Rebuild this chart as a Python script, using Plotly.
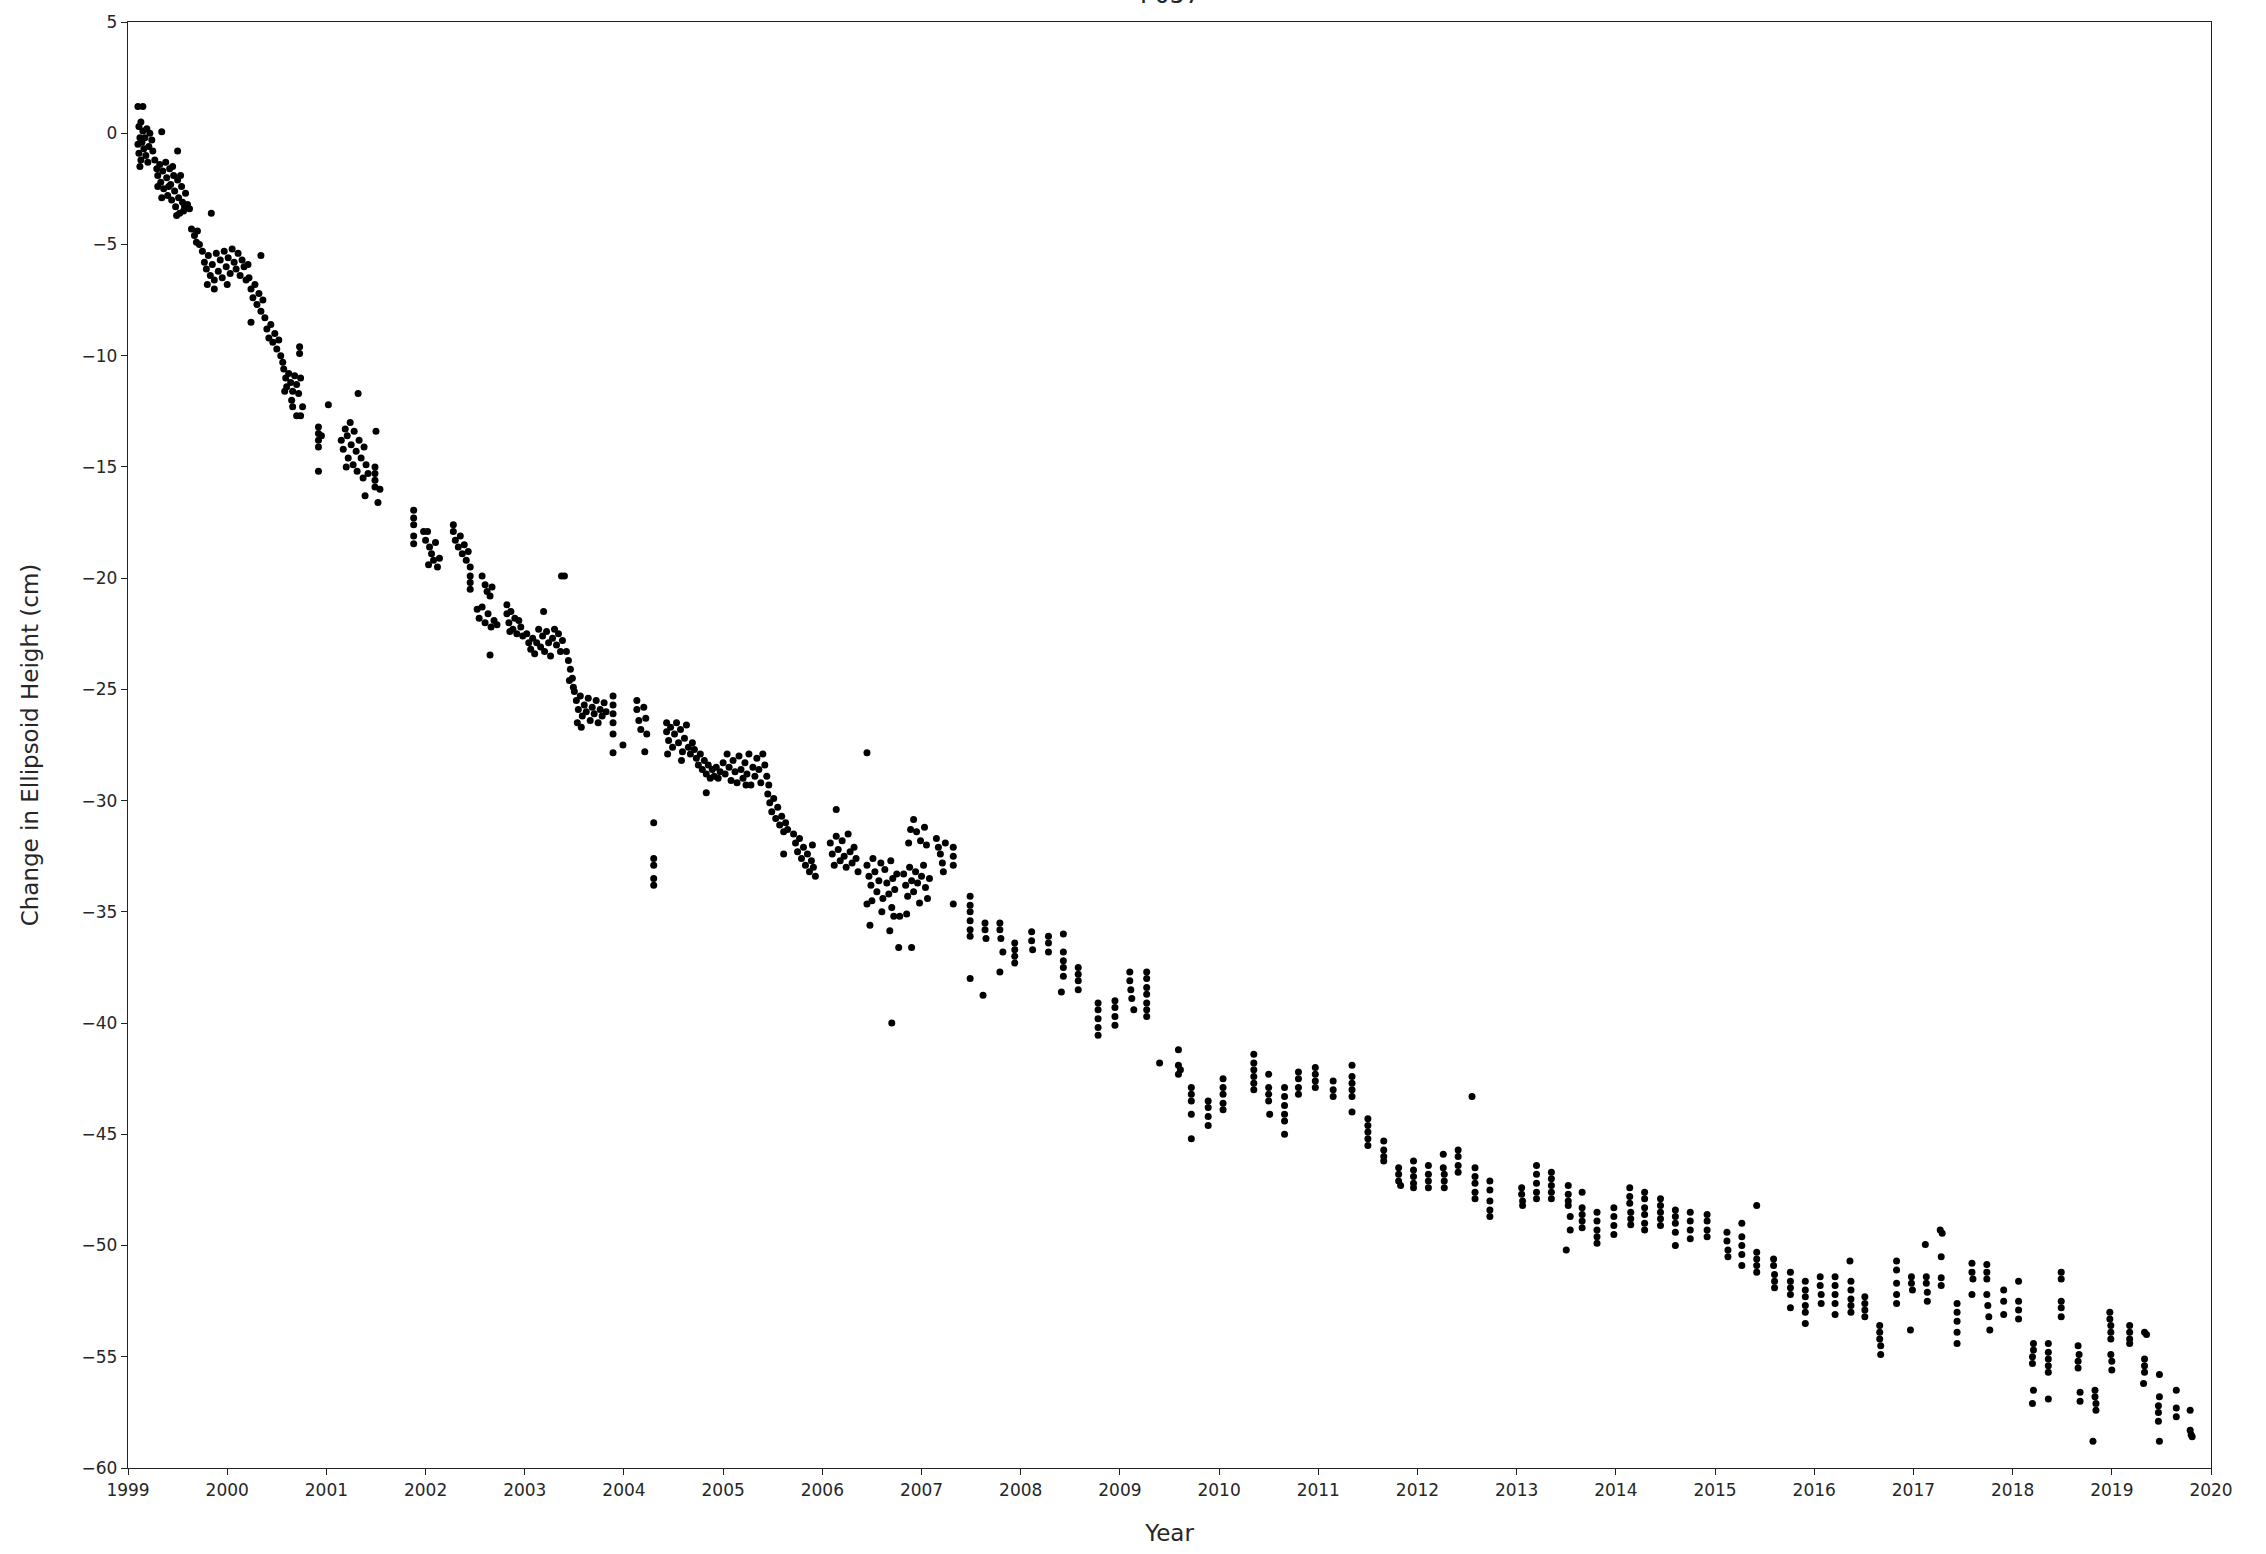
import plotly.graph_objects as go

# ---- data: (decimal year, change in ellipsoid height in cm) ----
seg_1999 = [
    [1999.10, 1.2], [1999.15, 1.2],
    [1999.11, 0.3], [1999.13, 0.5], [1999.15, 0.1], [1999.12, -0.2], [1999.10, -0.5], [1999.14, -0.4],
    [1999.16, -0.7], [1999.11, -0.9], [1999.18, -1.0], [1999.13, -1.2], [1999.17, -0.2], [1999.19, 0.2],
    [1999.21, -0.6], [1999.12, -1.5], [1999.20, -1.3], [1999.22, 0.0], [1999.24, -0.3], [1999.25, -0.8],
    [1999.34, 0.07], [1999.50, -0.8],
    [1999.27, -1.2], [1999.29, -1.6], [1999.30, -1.9], [1999.32, -1.4], [1999.33, -2.2], [1999.35, -1.7],
    [1999.36, -2.5], [1999.38, -1.3], [1999.39, -2.0], [1999.40, -2.8], [1999.42, -1.6], [1999.43, -2.3],
    [1999.44, -3.0], [1999.46, -1.9], [1999.47, -2.6], [1999.48, -3.3], [1999.50, -2.1], [1999.51, -2.9],
    [1999.52, -3.6], [1999.54, -2.4], [1999.55, -3.1], [1999.56, -3.5], [1999.58, -2.7], [1999.45, -1.5],
    [1999.41, -2.4], [1999.34, -2.9], [1999.30, -2.4], [1999.53, -1.9], [1999.57, -3.3], [1999.49, -3.7],
    [1999.60, -3.2], [1999.62, -3.4], [1999.84, -3.6],
    [1999.64, -4.3], [1999.67, -4.6], [1999.70, -4.4], [1999.72, -5.0], [1999.69, -4.9],
    [1999.75, -5.3], [1999.77, -5.8], [1999.79, -6.1], [1999.81, -5.5], [1999.83, -6.4], [1999.85, -5.9],
    [1999.87, -6.6], [1999.89, -5.4], [1999.91, -6.2], [1999.93, -5.7], [1999.95, -6.5], [1999.97, -5.3],
    [1999.99, -6.0], [1999.87, -7.0], [1999.80, -6.8],
]
seg_2000 = [
    [2000.01, -5.6], [2000.03, -6.3], [2000.05, -5.2], [2000.07, -5.8], [2000.09, -6.1], [2000.11, -5.4],
    [2000.13, -6.4], [2000.15, -5.7], [2000.17, -6.0], [2000.19, -6.6], [2000.21, -5.9], [2000.00, -6.8],
    [2000.34, -5.5],
    [2000.22, -6.5], [2000.24, -7.0], [2000.26, -7.4], [2000.28, -6.8], [2000.30, -7.7], [2000.32, -7.2],
    [2000.34, -8.0], [2000.36, -7.5], [2000.38, -8.3], [2000.24, -8.5], [2000.40, -8.8], [2000.42, -9.2],
    [2000.44, -8.6], [2000.46, -9.4], [2000.48, -9.0], [2000.50, -9.7], [2000.52, -9.3], [2000.54, -10.0],
    [2000.56, -10.3], [2000.73, -9.6], [2000.73, -9.9],
    [2000.57, -10.6], [2000.59, -11.0], [2000.60, -11.4], [2000.62, -10.8], [2000.64, -11.2], [2000.66, -11.6],
    [2000.68, -10.9], [2000.70, -11.3], [2000.72, -11.7], [2000.74, -11.0], [2000.58, -11.6], [2000.65, -12.0],
    [2000.66, -12.3], [2000.70, -12.7], [2000.74, -12.7], [2000.76, -12.3],
    [2000.92, -13.2], [2000.92, -13.5], [2000.92, -13.8], [2000.92, -14.1], [2000.95, -13.6], [2000.92, -15.2],
]
seg_2001 = [
    [2001.02, -12.2], [2001.32, -11.7],
    [2001.15, -13.8], [2001.17, -14.2], [2001.19, -13.3], [2001.21, -13.6], [2001.22, -14.6], [2001.24, -13.0],
    [2001.25, -14.0], [2001.27, -14.9], [2001.28, -13.4], [2001.30, -14.3], [2001.31, -15.2], [2001.33, -13.8],
    [2001.35, -14.6], [2001.37, -15.5], [2001.38, -14.1], [2001.40, -14.9], [2001.42, -15.3], [2001.20, -15.0],
    [2001.50, -13.4], [2001.49, -15.0], [2001.49, -15.3], [2001.49, -15.6], [2001.49, -15.9], [2001.39, -16.3],
    [2001.54, -16.0], [2001.52, -16.6],
    [2001.88, -16.95], [2001.88, -17.3], [2001.88, -17.6], [2001.88, -18.1], [2001.88, -18.45],
    [2001.98, -17.9],
]
seg_2002 = [
    [2002.00, -18.3], [2002.02, -17.9], [2002.04, -18.6], [2002.06, -18.9], [2002.08, -19.2], [2002.10, -18.4],
    [2002.12, -19.5], [2002.14, -19.1], [2002.03, -19.4],
    [2002.28, -17.6], [2002.28, -17.9], [2002.30, -18.3], [2002.33, -18.6], [2002.35, -18.1], [2002.37, -18.9],
    [2002.39, -18.5], [2002.41, -19.2], [2002.43, -18.8], [2002.45, -19.5],
    [2002.45, -19.9], [2002.45, -20.2], [2002.45, -20.5],
    [2002.57, -19.9], [2002.60, -20.3], [2002.62, -20.6], [2002.65, -20.8], [2002.67, -20.4],
    [2002.52, -21.4], [2002.54, -21.8], [2002.57, -21.3], [2002.60, -22.0], [2002.63, -21.6], [2002.66, -22.2],
    [2002.69, -21.9], [2002.72, -22.1], [2002.65, -23.45],
    [2002.82, -21.2], [2002.82, -21.6], [2002.84, -22.0], [2002.86, -21.5], [2002.88, -22.3], [2002.90, -21.8],
    [2002.92, -22.5], [2002.94, -21.9], [2002.96, -22.2], [2002.98, -22.6], [2002.85, -22.4],
]
seg_2003 = [
    [2003.19, -21.5],
    [2003.02, -22.5], [2003.04, -22.9], [2003.06, -23.2], [2003.08, -22.7], [2003.10, -23.4], [2003.12, -22.9],
    [2003.14, -22.3], [2003.16, -23.1], [2003.18, -22.6], [2003.20, -23.3], [2003.22, -22.4], [2003.24, -22.9],
    [2003.26, -23.5], [2003.28, -22.7], [2003.30, -22.3], [2003.32, -23.0], [2003.34, -22.5], [2003.36, -23.3],
    [2003.38, -22.8], [2003.37, -19.9], [2003.40, -19.9],
    [2003.42, -23.3], [2003.44, -23.7], [2003.46, -24.1], [2003.48, -24.5], [2003.49, -24.9], [2003.45, -24.6],
    [2003.50, -25.1], [2003.52, -25.5], [2003.54, -25.9], [2003.56, -25.3], [2003.58, -26.2], [2003.60, -25.7],
    [2003.62, -26.0], [2003.64, -25.4], [2003.66, -26.4], [2003.68, -25.8], [2003.70, -26.1], [2003.72, -25.5],
    [2003.74, -26.5], [2003.76, -25.9], [2003.78, -26.2], [2003.80, -25.6], [2003.82, -26.0], [2003.53, -26.5],
    [2003.57, -26.7],
    [2003.89, -25.3], [2003.89, -25.7], [2003.89, -26.1], [2003.89, -26.5], [2003.89, -27.0], [2003.89, -27.85],
    [2003.99, -27.5],
]
seg_2004 = [
    [2004.13, -25.5], [2004.13, -25.9], [2004.15, -26.4], [2004.17, -26.8], [2004.20, -25.8], [2004.22, -26.3],
    [2004.23, -27.0], [2004.21, -27.8],
    [2004.30, -31.0], [2004.30, -32.6], [2004.30, -32.9], [2004.30, -33.5], [2004.30, -33.8],
    [2004.43, -26.5], [2004.43, -26.9], [2004.45, -27.3], [2004.47, -26.7], [2004.49, -27.6], [2004.51, -27.0],
    [2004.53, -26.5], [2004.55, -27.4], [2004.57, -26.8], [2004.59, -27.8], [2004.61, -27.2], [2004.63, -26.6],
    [2004.65, -27.6], [2004.67, -27.9], [2004.69, -27.4], [2004.44, -27.9], [2004.58, -28.2],
    [2004.71, -27.7], [2004.73, -28.1], [2004.75, -28.4], [2004.77, -27.9], [2004.79, -28.6], [2004.81, -28.2],
    [2004.83, -28.8], [2004.85, -28.4], [2004.87, -29.0], [2004.89, -28.6], [2004.91, -28.9], [2004.93, -28.5],
    [2004.95, -29.0], [2004.97, -28.7], [2004.83, -29.65],
]
seg_2005 = [
    [2005.00, -28.3], [2005.02, -28.8], [2005.04, -27.9], [2005.06, -28.5], [2005.08, -29.1], [2005.10, -28.2],
    [2005.12, -28.7], [2005.14, -29.2], [2005.16, -28.0], [2005.18, -28.6], [2005.20, -29.0], [2005.22, -28.3],
    [2005.24, -28.8], [2005.26, -27.9], [2005.28, -29.3], [2005.30, -28.5], [2005.32, -28.9], [2005.34, -28.1],
    [2005.36, -28.6], [2005.38, -29.2], [2005.40, -27.9], [2005.42, -28.4], [2005.44, -28.9], [2005.46, -29.3],
    [2005.23, -29.3],
    [2005.45, -29.7], [2005.47, -30.1], [2005.49, -30.5], [2005.51, -29.9], [2005.53, -30.8], [2005.55, -30.3],
    [2005.57, -31.1], [2005.59, -30.7], [2005.61, -31.4], [2005.63, -31.0], [2005.65, -31.3], [2005.61, -32.4],
    [2005.71, -31.5], [2005.73, -31.9], [2005.75, -32.3], [2005.77, -31.7], [2005.79, -32.6], [2005.81, -32.1],
    [2005.83, -32.9], [2005.85, -32.4], [2005.87, -33.2], [2005.89, -32.7], [2005.91, -33.0], [2005.93, -33.4],
    [2005.90, -32.0],
]
seg_2006 = [
    [2006.45, -27.85], [2006.14, -30.4],
    [2006.08, -31.9], [2006.10, -32.4], [2006.12, -32.9], [2006.14, -31.6], [2006.16, -32.2], [2006.18, -32.7],
    [2006.20, -31.8], [2006.22, -32.5], [2006.24, -33.0], [2006.26, -31.5], [2006.28, -32.3], [2006.30, -32.8],
    [2006.32, -32.1], [2006.34, -32.6], [2006.36, -33.2],
    [2006.45, -32.9], [2006.47, -33.4], [2006.49, -33.8], [2006.51, -32.6], [2006.53, -33.2], [2006.55, -34.1],
    [2006.57, -33.6], [2006.59, -32.8], [2006.61, -34.4], [2006.63, -33.1], [2006.65, -33.7], [2006.67, -34.2],
    [2006.69, -32.7], [2006.71, -33.5], [2006.73, -34.0], [2006.75, -33.3], [2006.50, -34.5], [2006.60, -35.0],
    [2006.70, -34.8],
    [2006.45, -34.65], [2006.48, -35.6], [2006.68, -35.85], [2006.70, -40.0], [2006.77, -36.6], [2006.90, -36.6],
    [2006.72, -35.2], [2006.78, -35.2], [2006.85, -35.1],
    [2006.82, -33.3], [2006.84, -33.8], [2006.86, -34.3], [2006.88, -33.0], [2006.90, -33.6], [2006.92, -34.1],
    [2006.94, -33.2], [2006.96, -33.7], [2006.98, -34.6],
    [2006.92, -30.85], [2006.89, -31.3], [2006.87, -31.9], [2006.95, -31.4], [2006.99, -31.8],
]
seg_2007 = [
    [2007.00, -33.4], [2007.02, -32.9], [2007.04, -33.9], [2007.06, -34.4], [2007.08, -33.5],
    [2007.03, -31.2], [2007.05, -32.0],
    [2007.15, -31.7], [2007.17, -32.1], [2007.19, -32.4], [2007.21, -32.8], [2007.24, -31.9],
    [2007.32, -32.1], [2007.32, -32.5], [2007.32, -32.9], [2007.22, -33.2], [2007.32, -34.65],
    [2007.49, -34.3], [2007.49, -34.7], [2007.49, -35.0], [2007.49, -35.4], [2007.49, -35.8], [2007.49, -36.1],
    [2007.49, -38.0],
    [2007.64, -35.5], [2007.64, -35.8], [2007.65, -36.2], [2007.62, -38.75],
    [2007.79, -35.5], [2007.79, -35.8], [2007.80, -36.2], [2007.82, -36.8], [2007.79, -37.7],
    [2007.94, -36.4], [2007.94, -36.7], [2007.94, -37.0], [2007.94, -37.3],
]
seg_2008 = [
    [2008.11, -35.9], [2008.11, -36.3], [2008.12, -36.7],
    [2008.28, -36.1], [2008.28, -36.4], [2008.28, -36.8],
    [2008.43, -36.0], [2008.43, -36.8], [2008.43, -37.2], [2008.43, -37.5], [2008.43, -37.9], [2008.41, -38.6],
    [2008.58, -37.5], [2008.58, -37.8], [2008.58, -38.1], [2008.58, -38.5],
    [2008.78, -39.1], [2008.78, -39.4], [2008.78, -39.8], [2008.78, -40.2], [2008.78, -40.55],
    [2008.95, -39.0], [2008.95, -39.3], [2008.95, -39.7], [2008.95, -40.1],
]
seg_2009 = [
    [2009.10, -37.7], [2009.10, -38.1], [2009.11, -38.5], [2009.12, -38.9], [2009.14, -39.4],
    [2009.27, -37.7], [2009.27, -38.0], [2009.27, -38.4], [2009.27, -38.7], [2009.27, -39.1], [2009.27, -39.4],
    [2009.27, -39.7],
    [2009.40, -41.8],
    [2009.59, -41.2], [2009.59, -41.9], [2009.59, -42.3], [2009.61, -42.1],
    [2009.72, -42.9], [2009.72, -43.2], [2009.72, -43.5], [2009.72, -44.1], [2009.72, -45.2],
    [2009.89, -43.5], [2009.89, -43.8], [2009.89, -44.2], [2009.89, -44.6],
]
seg_2010 = [
    [2010.04, -42.5], [2010.04, -42.9], [2010.04, -43.2], [2010.04, -43.6], [2010.04, -43.9],
    [2010.35, -41.4], [2010.35, -41.8], [2010.35, -42.1], [2010.35, -42.4], [2010.35, -42.7], [2010.35, -43.0],
    [2010.50, -42.3], [2010.50, -42.9], [2010.50, -43.2], [2010.50, -43.5], [2010.51, -44.1],
    [2010.66, -42.9], [2010.66, -43.3], [2010.66, -43.7], [2010.66, -44.1], [2010.66, -44.4], [2010.66, -45.0],
    [2010.80, -42.2], [2010.80, -42.5], [2010.80, -42.9], [2010.80, -43.2],
    [2010.97, -42.0], [2010.97, -42.3], [2010.97, -42.6], [2010.97, -42.9],
]
seg_2011 = [
    [2011.15, -42.6], [2011.15, -43.0], [2011.15, -43.3],
    [2011.34, -41.9], [2011.34, -42.4], [2011.34, -42.7], [2011.34, -43.0], [2011.34, -43.3], [2011.34, -44.0],
    [2011.50, -44.3], [2011.50, -44.6], [2011.50, -44.9], [2011.50, -45.2], [2011.50, -45.5],
    [2011.66, -45.3], [2011.66, -45.7], [2011.66, -46.0], [2011.66, -46.2],
    [2011.81, -46.5], [2011.81, -46.8], [2011.81, -47.1], [2011.83, -47.3],
    [2011.96, -46.2], [2011.96, -46.6], [2011.96, -46.9], [2011.96, -47.2], [2011.96, -47.4],
]
seg_2012 = [
    [2012.11, -46.4], [2012.11, -46.8], [2012.11, -47.1], [2012.11, -47.4],
    [2012.26, -45.9], [2012.26, -46.5], [2012.27, -46.8], [2012.27, -47.1], [2012.27, -47.4],
    [2012.41, -45.7], [2012.41, -46.0], [2012.41, -46.4], [2012.41, -46.7],
    [2012.55, -43.3],
    [2012.58, -46.5], [2012.58, -46.9], [2012.58, -47.2], [2012.58, -47.6], [2012.58, -47.9],
    [2012.73, -47.1], [2012.73, -47.5], [2012.73, -48.0], [2012.73, -48.4], [2012.73, -48.7],
]
seg_2013 = [
    [2013.05, -47.4], [2013.05, -47.7], [2013.06, -48.0], [2013.06, -48.2],
    [2013.20, -46.4], [2013.20, -46.8], [2013.20, -47.2], [2013.20, -47.6], [2013.20, -47.9],
    [2013.35, -46.7], [2013.35, -47.0], [2013.35, -47.3], [2013.35, -47.6], [2013.35, -47.9],
    [2013.52, -47.3], [2013.52, -47.7], [2013.52, -48.0], [2013.52, -48.2], [2013.54, -48.7], [2013.54, -49.3],
    [2013.50, -50.2],
    [2013.66, -47.6], [2013.66, -48.3], [2013.66, -48.6], [2013.66, -48.9], [2013.66, -49.2],
    [2013.81, -48.5], [2013.81, -48.9], [2013.81, -49.3], [2013.81, -49.6], [2013.81, -49.9],
    [2013.98, -48.3], [2013.98, -48.7], [2013.98, -49.1], [2013.98, -49.5],
]
seg_2014 = [
    [2014.14, -47.4], [2014.14, -47.8], [2014.14, -48.1], [2014.15, -48.5], [2014.15, -48.8], [2014.15, -49.06],
    [2014.29, -47.6], [2014.29, -47.9], [2014.29, -48.3], [2014.29, -48.6], [2014.29, -49.0], [2014.29, -49.3],
    [2014.45, -47.9], [2014.45, -48.2], [2014.45, -48.5], [2014.45, -48.8], [2014.45, -49.1],
    [2014.60, -48.4], [2014.60, -48.7], [2014.60, -49.0], [2014.60, -49.4], [2014.60, -50.0],
    [2014.75, -48.5], [2014.75, -48.9], [2014.75, -49.3], [2014.75, -49.7],
    [2014.92, -48.6], [2014.92, -48.9], [2014.92, -49.3], [2014.92, -49.6],
]
seg_2015 = [
    [2015.12, -49.4], [2015.12, -49.8], [2015.13, -50.2], [2015.13, -50.5],
    [2015.27, -49.0], [2015.27, -49.6], [2015.27, -50.0], [2015.27, -50.4], [2015.27, -50.9],
    [2015.42, -48.2], [2015.42, -50.3], [2015.42, -50.6], [2015.42, -50.9], [2015.42, -51.2],
    [2015.59, -50.6], [2015.59, -50.9], [2015.60, -51.3], [2015.60, -51.6], [2015.60, -51.9],
    [2015.76, -51.2], [2015.76, -51.6], [2015.76, -51.9], [2015.76, -52.2], [2015.76, -52.8],
    [2015.91, -51.6], [2015.91, -52.0], [2015.91, -52.3], [2015.91, -52.7], [2015.91, -53.0], [2015.91, -53.5],
]
seg_2016 = [
    [2016.06, -51.4], [2016.06, -51.8], [2016.07, -52.2], [2016.07, -52.6],
    [2016.21, -51.4], [2016.21, -51.8], [2016.21, -52.2], [2016.21, -52.6], [2016.21, -53.1],
    [2016.36, -50.7], [2016.37, -51.6], [2016.37, -52.0], [2016.37, -52.4], [2016.37, -52.7], [2016.37, -53.0],
    [2016.51, -52.3], [2016.51, -52.6], [2016.51, -52.9], [2016.51, -53.2],
    [2016.66, -53.6], [2016.66, -53.9], [2016.66, -54.2], [2016.67, -54.5], [2016.67, -54.9],
    [2016.83, -50.7], [2016.83, -51.1], [2016.83, -51.7], [2016.83, -52.2], [2016.83, -52.6],
    [2016.97, -53.8], [2016.98, -51.4], [2016.98, -51.7], [2016.99, -52.0],
]
seg_2017 = [
    [2017.12, -49.95],
    [2017.13, -51.4], [2017.13, -51.7], [2017.14, -52.1], [2017.14, -52.5],
    [2017.27, -49.3], [2017.29, -49.45], [2017.28, -50.5], [2017.28, -51.45], [2017.28, -51.8],
    [2017.44, -52.6], [2017.44, -53.0], [2017.44, -53.4], [2017.44, -53.9], [2017.44, -54.4],
    [2017.59, -50.8], [2017.59, -51.2], [2017.60, -51.5], [2017.59, -52.2],
    [2017.74, -50.85], [2017.74, -51.2], [2017.74, -51.5], [2017.74, -52.2], [2017.75, -52.7], [2017.76, -53.2],
    [2017.77, -53.8],
    [2017.91, -52.0], [2017.91, -52.5], [2017.91, -53.1],
]
seg_2018 = [
    [2018.06, -51.6], [2018.06, -52.5], [2018.06, -52.9], [2018.06, -53.3],
    [2018.21, -54.4], [2018.21, -54.7], [2018.20, -55.0], [2018.20, -55.3], [2018.21, -56.5], [2018.20, -57.1],
    [2018.36, -54.4], [2018.36, -54.8], [2018.36, -55.1], [2018.36, -55.4], [2018.36, -55.7], [2018.36, -56.9],
    [2018.49, -51.2], [2018.49, -51.5], [2018.49, -52.5], [2018.49, -52.8], [2018.49, -53.2],
    [2018.66, -54.5], [2018.67, -54.9], [2018.66, -55.2], [2018.66, -55.5], [2018.68, -56.6], [2018.68, -57.0],
    [2018.83, -56.5], [2018.83, -56.8], [2018.84, -57.1], [2018.84, -57.4], [2018.81, -58.8],
    [2018.98, -53.0], [2018.98, -53.3], [2018.99, -53.6], [2018.99, -53.9], [2018.99, -54.2], [2018.99, -54.9],
]
seg_2019 = [
    [2019.00, -55.2], [2019.00, -55.6],
    [2019.18, -53.6], [2019.18, -53.9], [2019.18, -54.2], [2019.18, -54.4],
    [2019.33, -53.9], [2019.35, -54.0], [2019.33, -55.1], [2019.33, -55.4], [2019.33, -55.7], [2019.32, -56.2],
    [2019.48, -55.8], [2019.48, -56.8], [2019.47, -57.2], [2019.47, -57.5], [2019.47, -57.9], [2019.48, -58.8],
    [2019.65, -56.5], [2019.65, -57.3], [2019.65, -57.7],
    [2019.79, -57.4], [2019.79, -58.3], [2019.80, -58.5], [2019.81, -58.6],
]

segments = [seg_1999, seg_2000, seg_2001, seg_2002, seg_2003, seg_2004, seg_2005, seg_2006,
            seg_2007, seg_2008, seg_2009, seg_2010, seg_2011, seg_2012, seg_2013, seg_2014,
            seg_2015, seg_2016, seg_2017, seg_2018, seg_2019]

years = [p[0] for s in segments for p in s]
heights = [p[1] for s in segments for p in s]

x_ticks = list(range(1999, 2021))
y_ticks = list(range(-60, 6, 5))

title_text = "P057"
x_title = "Year"
y_title = "Change in Ellipsoid Height (cm)"

FONT = "DejaVu Sans"
TXT = "#262626"

fig = go.Figure()
fig.add_trace(go.Scatter(
    x=years, y=heights, mode="markers",
    marker=dict(color="black", size=7, symbol="circle", line=dict(width=0)),
    showlegend=False,
))

axis_common = dict(
    showline=True, mirror=True, linecolor="#222222", linewidth=1.3,
    ticks="outside", ticklen=6, tickwidth=1.2, tickcolor="#222222",
    showgrid=False, zeroline=False,
    tickfont=dict(family=FONT, size=17, color=TXT),
)

# title sits mostly above the top edge of the page, as in the reference
fig.add_annotation(
    text=title_text, xref="paper", yref="paper", x=0.5, y=1.0,
    xanchor="center", yanchor="bottom", yshift=11, showarrow=False,
    font=dict(family=FONT, size=24, color=TXT),
)

fig.update_layout(
    width=2266, height=1554,
    paper_bgcolor="white", plot_bgcolor="white",
    margin=dict(l=128, r=55, t=20, b=83),
    font=dict(family=FONT, color=TXT),
    xaxis=dict(range=[1999, 2020], tickvals=x_ticks, ticktext=[str(v) for v in x_ticks],
               title=dict(text=x_title, font=dict(family=FONT, size=23, color=TXT), standoff=26),
               **axis_common),
    yaxis=dict(range=[-60, 5], tickvals=y_ticks,
               ticktext=[("\u2212" + str(-v)) if v < 0 else str(v) for v in y_ticks],
               title=dict(text=y_title, font=dict(family=FONT, size=23, color=TXT), standoff=36),
               **axis_common),
)

fig.write_html("out.html", config={"displayModeBar": False},
               post_script="document.body.style.margin='0';document.body.style.overflow='hidden';")
